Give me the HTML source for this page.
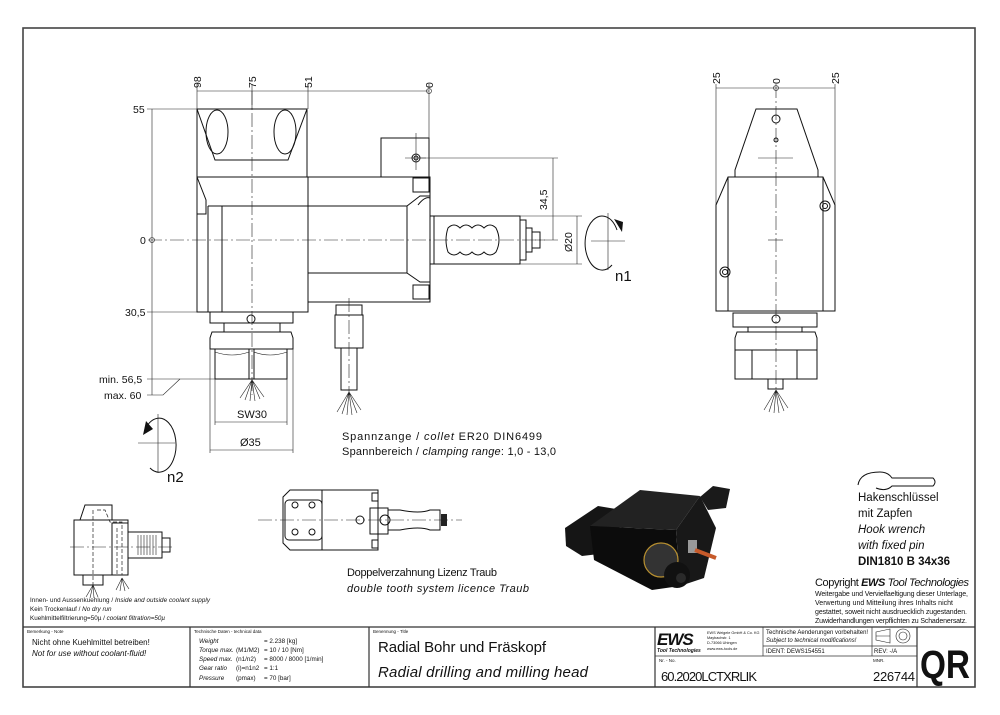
<!DOCTYPE html>
<html><head><meta charset="utf-8"><style>
html,body{margin:0;padding:0;background:#fff;}
svg{display:block;font-family:"Liberation Sans",sans-serif;}
.l{stroke:#111;stroke-width:1;fill:none}
.t{stroke:#222;stroke-width:0.6;fill:none}
.c{stroke:#222;stroke-width:0.6;fill:none;stroke-dasharray:14 3 2 3}
.h{stroke:#222;stroke-width:0.7;fill:none;stroke-dasharray:4 2}
text{fill:#111}
</style></head><body>
<svg width="1000" height="715" viewBox="0 0 1000 715" xmlns="http://www.w3.org/2000/svg">
<rect x="0" y="0" width="1000" height="715" fill="#fff"/>
<rect x="23" y="28" width="952" height="659" fill="none" stroke="#444" stroke-width="1.6"/>

<!-- MAIN SIDE VIEW -->
<rect class="l" x="197" y="109" width="110" height="68"/>
<path class="l" d="M197,109 L215,160 L288,160 L307,109"/>
<ellipse class="l" cx="217" cy="132" rx="11" ry="22"/>
<ellipse class="l" cx="285" cy="132" rx="11" ry="22"/>
<rect class="l" x="197" y="177" width="111" height="135"/>
<line class="l" x1="208" y1="206" x2="208" y2="312"/>
<line class="l" x1="222" y1="206" x2="222" y2="312"/>
<line class="l" x1="208" y1="206" x2="308" y2="206"/>
<path class="l" d="M197,177 L206,200 L206,214 L197,214"/>
<rect class="l" x="308" y="177" width="122" height="125"/>
<line class="l" x1="308" y1="206" x2="407" y2="206"/>
<line class="l" x1="308" y1="273" x2="407" y2="273"/>
<path class="l" d="M407,206 L420,196 L430,196 M407,206 L407,273 L420,282 L430,282"/>
<path class="l" d="M418,205 Q425,196 430,198"/>
<rect class="l" x="413" y="178" width="16" height="14"/>
<rect class="l" x="413" y="285" width="16" height="14"/>
<rect class="l" x="381" y="138" width="48" height="39"/>
<circle class="l" cx="416" cy="158" r="4"/><circle class="l" cx="416" cy="158" r="2"/>
<line class="t" x1="405" y1="158" x2="426" y2="158"/><line class="t" x1="416" y1="133" x2="416" y2="170"/>
<rect class="l" x="430" y="216" width="4" height="48"/>
<rect class="l" x="434" y="216" width="86" height="48"/>
<path class="l" d="M448,228 Q444,240 448,252 Q454,258 460,252 Q466,258 472,252 Q478,258 484,252 Q490,258 496,252 Q502,240 496,228 Q490,222 484,228 Q478,222 472,228 Q466,222 460,228 Q454,222 448,228Z"/>
<rect class="l" x="520" y="220" width="6" height="40"/>
<rect class="l" x="526" y="228" width="6" height="24"/>
<rect class="l" x="532" y="232" width="8" height="16" fill="#333"/>
<line class="c" x1="148" y1="240" x2="545" y2="240"/>
<line class="c" x1="252" y1="91" x2="252" y2="395"/>
<rect class="l" x="210" y="312" width="83" height="11"/>
<circle class="l" cx="251" cy="319" r="4"/>
<rect class="l" x="224" y="323" width="56" height="9"/>
<path class="l" d="M212,332 L291,332 L293,338 L293,349 L210,349 L210,338Z"/>
<rect class="l" x="215" y="349" width="72" height="30"/>
<line class="l" x1="249" y1="349" x2="249" y2="379"/><line class="l" x1="254" y1="349" x2="254" y2="379"/>
<path class="t" d="M215,352 Q232,358 249,352 M254,352 Q270,358 287,352"/>
<path class="t" d="M252,380 L240,398 M252,380 L245,400 M252,380 L250,401 M252,380 L255,401 M252,380 L260,399 M252,380 L264,397"/>
<rect class="l" x="336" y="305" width="26" height="10"/>
<rect class="l" x="335" y="315" width="28" height="33"/>
<rect class="l" x="341" y="348" width="16" height="42"/>
<line class="c" x1="349" y1="298" x2="349" y2="395"/>
<path class="t" d="M349,392 L337,412 M349,392 L342,414 M349,392 L347,415 M349,392 L352,415 M349,392 L357,413 M349,392 L361,410"/>

<line class="t" x1="197" y1="91" x2="429" y2="91"/>
<line class="t" x1="197" y1="84" x2="197" y2="109"/>
<line class="t" x1="252" y1="84" x2="252" y2="109"/>
<line class="t" x1="308" y1="84" x2="308" y2="109"/>
<line class="t" x1="429" y1="84" x2="429" y2="140"/>
<circle class="t" cx="429" cy="91" r="2.5"/>
<g font-size="10.5">
<text transform="translate(201,88) rotate(-90)">98</text>
<text transform="translate(256,88) rotate(-90)">75</text>
<text transform="translate(312,88) rotate(-90)">51</text>
<text transform="translate(433,88) rotate(-90)">0</text>
</g>
<line class="t" x1="152" y1="109" x2="152" y2="395"/>
<line class="t" x1="147" y1="109" x2="197" y2="109"/>
<line class="t" x1="147" y1="312" x2="197" y2="312"/>
<line class="t" x1="147" y1="379" x2="215" y2="379"/>
<path class="t" d="M147,395 L163,395 L180,379"/>
<circle class="t" cx="152" cy="240" r="2.5"/>
<g font-size="10.5">
<text x="133" y="113">55</text>
<text x="140" y="244">0</text>
<text x="125" y="316">30,5</text>
<text x="99" y="383">min. 56,5</text>
<text x="104" y="399">max. 60</text>
</g>
<line class="t" x1="215" y1="379" x2="215" y2="425"/><line class="t" x1="287" y1="379" x2="287" y2="425"/>
<line class="t" x1="215" y1="422" x2="287" y2="422"/>
<line class="t" x1="210" y1="349" x2="210" y2="453"/><line class="t" x1="293" y1="349" x2="293" y2="453"/>
<line class="t" x1="210" y1="450" x2="293" y2="450"/>
<text x="237" y="418" font-size="11">SW30</text>
<text x="240" y="446" font-size="11">Ø35</text>
<line class="t" x1="420" y1="158" x2="558" y2="158"/>
<line class="t" x1="535" y1="240" x2="558" y2="240"/>
<line class="t" x1="553" y1="158" x2="553" y2="240"/>
<line class="t" x1="520" y1="216" x2="582" y2="216"/>
<line class="t" x1="520" y1="264" x2="582" y2="264"/>
<line class="t" x1="577" y1="216" x2="577" y2="264"/>
<text transform="translate(547,210) rotate(-90)" font-size="10.5">34,5</text>
<text transform="translate(572,252) rotate(-90)" font-size="10.5">Ø20</text>
<path class="l" d="M617,230 A17,27 0 1,0 612,265"/>
<path d="M622,232 L614,219 L623,222Z" fill="#111"/>
<line class="t" x1="591" y1="241" x2="625" y2="241"/><line class="t" x1="608" y1="213" x2="608" y2="270"/>
<text x="615" y="281" font-size="15">n1</text>
<path class="l" d="M145,430 A17,27 0 1,1 150,468"/>
<path d="M143,435 L146,421 L153,429Z" fill="#111"/>
<line class="t" x1="138" y1="443" x2="175" y2="443"/><line class="t" x1="158" y1="414" x2="158" y2="473"/>
<text x="167" y="482" font-size="15">n2</text>

<text x="342" y="440" font-size="11" textLength="200">Spannzange / <tspan font-style="italic">collet</tspan>    ER20    DIN6499</text>
<text x="342" y="455" font-size="11" textLength="214">Spannbereich / <tspan font-style="italic">clamping range</tspan>: 1,0 - 13,0</text>

<!-- RIGHT VIEW -->
<line class="t" x1="716" y1="88" x2="835" y2="88"/>
<line class="t" x1="716" y1="84" x2="716" y2="205"/><line class="t" x1="835" y1="84" x2="835" y2="205"/>
<circle class="t" cx="776" cy="88" r="2.5"/>
<g font-size="10.5">
<text transform="translate(720,84) rotate(-90)">25</text>
<text transform="translate(780,84) rotate(-90)">0</text>
<text transform="translate(839,84) rotate(-90)">25</text>
</g>
<path class="l" d="M756,109 L797,109 L818,170 L818,177 L735,177 L735,170Z"/>
<circle class="l" cx="776" cy="119" r="4"/><circle class="l" cx="776" cy="140" r="2"/>
<line class="t" x1="758" y1="158" x2="793" y2="158"/>
<path class="l" d="M728,177 L823,177 L835,205 L835,311 L716,311 L716,205Z"/>
<line class="l" x1="728" y1="177" x2="728" y2="311"/><line class="l" x1="823" y1="177" x2="823" y2="311"/>
<circle class="l" cx="825" cy="206" r="5"/><circle class="l" cx="825" cy="206" r="2.5"/>
<circle class="l" cx="725" cy="272" r="5"/><circle class="l" cx="725" cy="272" r="2.5"/>
<line class="t" x1="768" y1="240" x2="783" y2="240"/>
<line class="c" x1="776" y1="84" x2="776" y2="392"/>
<rect class="l" x="733" y="313" width="84" height="14"/>
<circle class="l" cx="776" cy="319" r="4"/>
<rect class="l" x="748" y="327" width="54" height="5"/>
<path class="l" d="M737,332 L815,332 L817,338 L817,379 L735,379 L735,338Z"/>
<line class="l" x1="735" y1="350" x2="817" y2="350"/>
<line class="l" x1="752" y1="350" x2="752" y2="379"/><line class="l" x1="797" y1="350" x2="797" y2="379"/>
<rect class="l" x="768" y="379" width="15" height="10"/>
<path class="t" d="M776,390 L764,410 M776,390 L769,412 M776,390 L774,413 M776,390 L779,413 M776,390 L784,411 M776,390 L788,408"/>

<!-- small schematic bottom-left -->
<path class="l" d="M80,520 L85,505 L112,505 L112,520 Z"/>
<rect class="l" x="74" y="520" width="54" height="55"/>
<rect class="l" x="112" y="523" width="16" height="52"/>
<rect class="l" x="128" y="532" width="34" height="26"/>
<rect class="l" x="162" y="538" width="8" height="14"/>
<rect class="l" x="83" y="575" width="20" height="10"/>
<path class="h" d="M93,510 L93,585 M97,510 L105,510 L110,522 L122,522 L122,575 M117,528 L117,575"/>
<g stroke="#222" stroke-width="0.6"><line x1="138" y1="535" x2="138" y2="555"/><line x1="141" y1="535" x2="141" y2="555"/><line x1="144" y1="535" x2="144" y2="555"/><line x1="147" y1="535" x2="147" y2="555"/><line x1="150" y1="535" x2="150" y2="555"/><line x1="153" y1="535" x2="153" y2="555"/><line x1="156" y1="535" x2="156" y2="555"/></g>
<line class="c" x1="70" y1="547" x2="175" y2="547"/>
<path class="t" d="M93,585 L86,597 M93,585 L90,598 M93,585 L94,598 M93,585 L98,597 M122,578 L116,590 M122,578 L120,591 M122,578 L125,591 M122,578 L129,589"/>
<g font-size="6.3">
<text x="30" y="602" textLength="180">Innen- und Aussenkuehlung / <tspan font-style="italic">Inside and outside coolant supply</tspan></text>
<text x="30" y="611">Kein Trockenlauf / <tspan font-style="italic">No dry run</tspan></text>
<text x="30" y="620">Kuehlmittelfiltrierung=50µ / <tspan font-style="italic">coolant filtration=50µ</tspan></text>
</g>

<!-- middle schematic -->
<path class="l" d="M283,497 L290,490 L378,490 L378,550 L290,550 L283,543Z"/>
<rect class="l" x="322" y="490" width="56" height="60"/>
<rect class="l" x="285" y="500" width="37" height="40" rx="4"/>
<circle class="l" cx="295" cy="505" r="3"/><circle class="l" cx="312" cy="505" r="3"/>
<circle class="l" cx="295" cy="532" r="3"/><circle class="l" cx="312" cy="532" r="3"/>
<rect class="l" x="372" y="493" width="6" height="8"/><rect class="l" x="372" y="540" width="6" height="8"/>
<circle class="l" cx="360" cy="520" r="4"/>
<rect class="l" x="370" y="508" width="18" height="26"/>
<circle class="l" cx="385" cy="520" r="5"/>
<path class="l" d="M388,510 L400,510 Q420,514 430,510 L440,510 L440,530 L430,530 Q420,526 400,530 L388,530Z"/>
<rect x="441" y="514" width="6" height="12" fill="#222"/>
<line class="c" x1="258" y1="520" x2="462" y2="520"/>
<text x="347" y="576" font-size="11" textLength="150">Doppelverzahnung Lizenz Traub</text>
<text x="347" y="592" font-size="11" font-style="italic" textLength="182">double tooth system licence Traub</text>

<!-- iso image -->
<polygon points="565,528 598,506 622,510 616,552 582,556 566,546" fill="#151515"/>
<polygon points="590,526 640,490 700,496 676,530" fill="#222"/>
<polygon points="590,526 676,530 680,586 652,590 594,560" fill="#0c0c0c"/>
<polygon points="676,530 700,496 716,528 704,578 680,586" fill="#181818"/>
<polygon points="700,497 713,486 730,489 726,508 708,510" fill="#1a1a1a"/>
<circle cx="661" cy="560" r="17" fill="#333" stroke="#b89030" stroke-width="1.2"/>
<circle cx="677" cy="575" r="13" fill="#111"/>
<circle cx="681" cy="578" r="5" fill="#2a2a2a"/>
<rect x="688" y="540" width="9" height="13" fill="#999"/>
<line x1="695" y1="550" x2="716" y2="558" stroke="#c65a2a" stroke-width="4"/>

<!-- hook wrench -->
<path class="l" d="M858,485 Q860,472 880,472 Q888,472 892,478 L933,478 Q937,482 933,486 L892,486 Q886,492 876,488"/>
<g font-size="11.5">
<text x="858" y="501">Hakenschlüssel</text>
<text x="858" y="517">mit Zapfen</text>
<text x="858" y="533" font-style="italic">Hook wrench</text>
<text x="858" y="549" font-style="italic">with fixed pin</text>
<text x="858" y="565" font-weight="bold">DIN1810 B 34x36</text>
</g>
<text x="815" y="586" font-size="11" textLength="154">Copyright <tspan font-weight="bold" font-style="italic">EWS</tspan> <tspan font-style="italic">Tool Technologies</tspan></text>
<g font-size="7">
<text x="815" y="596" textLength="153">Weitergabe und Vervielfaeltigung dieser Unterlage,</text>
<text x="815" y="605" textLength="138">Verwertung und Mitteilung ihres Inhalts nicht</text>
<text x="815" y="614" textLength="152">gestattet, soweit nicht ausdruecklich zugestanden.</text>
<text x="815" y="623" textLength="152">Zuwiderhandlungen verpflichten zu Schadenersatz.</text>
</g>

<!-- title block -->
<g stroke="#333" stroke-width="1.2" fill="none">
<line x1="23" y1="627" x2="975" y2="627"/>
<line x1="190" y1="627" x2="190" y2="687"/>
<line x1="369" y1="627" x2="369" y2="687"/>
<line x1="655" y1="627" x2="655" y2="687"/>
<line x1="917" y1="627" x2="917" y2="687"/>
</g>
<g stroke="#333" stroke-width="0.7" fill="none">
<line x1="655" y1="656" x2="917" y2="656"/>
<line x1="763" y1="646" x2="917" y2="646"/>
<line x1="763" y1="627" x2="763" y2="656"/>
<line x1="872" y1="627" x2="872" y2="656"/>
</g>
<g font-size="4.5" fill="#333">
<text x="27" y="633">Bemerkung - Note</text>
<text x="194" y="633">Technische Daten - technical data</text>
<text x="373" y="633">Benennung - Title</text>
<text x="659" y="662">Nr. - No.</text>
<text x="873" y="662">MNR.</text>
</g>
<text x="32" y="645" font-size="8">Nicht ohne Kuehlmittel betreiben!</text>
<text x="32" y="656" font-size="8" font-style="italic">Not for use without coolant-fluid!</text>
<g font-size="6.3">
<text x="199" y="643"><tspan font-style="italic">Weight</tspan><tspan x="264">= 2.238 [kg]</tspan></text>
<text x="199" y="652"><tspan font-style="italic">Torque max.</tspan><tspan x="236">(M1/M2)</tspan><tspan x="264">= 10 / 10 [Nm]</tspan></text>
<text x="199" y="661"><tspan font-style="italic">Speed max.</tspan><tspan x="236">(n1/n2)</tspan><tspan x="264">= 8000 / 8000 [1/min]</tspan></text>
<text x="199" y="670"><tspan font-style="italic">Gear ratio</tspan><tspan x="236">(i)=n1n2</tspan><tspan x="264">= 1:1</tspan></text>
<text x="199" y="680"><tspan font-style="italic">Pressure</tspan><tspan x="236">(pmax)</tspan><tspan x="264">= 70 [bar]</tspan></text>
</g>
<text x="378" y="652" font-size="15" textLength="168">Radial Bohr und Fräskopf</text>
<text x="378" y="677" font-size="15" font-style="italic" textLength="210">Radial drilling and milling head</text>
<text x="657" y="645" font-size="17" font-weight="bold" font-style="italic" letter-spacing="-1">EWS</text>
<text x="657" y="652" font-size="5" font-weight="bold" font-style="italic">Tool Technologies</text>
<g font-size="3.8"><text x="707" y="634">EWS Weigele GmbH &amp; Co. KG</text><text x="707" y="639">Maybachstr. 1</text><text x="707" y="644">D-73066 Uhingen</text><text x="707" y="650">www.ews-tools.de</text></g>
<text x="766" y="634" font-size="6">Technische Aenderungen vorbehalten!</text>
<text x="766" y="642" font-size="6" font-style="italic">Subject to technical modifications!</text>
<text x="766" y="653" font-size="6">IDENT:  DEWS154551</text>
<text x="874" y="653" font-size="6">REV:  -/A</text>
<path class="t" d="M876,632 L890,629 L890,643 L876,640Z M876,636 L890,636"/>
<circle class="t" cx="903" cy="636" r="7"/><circle class="t" cx="903" cy="636" r="4"/>
<text x="661" y="681" font-size="13" textLength="96">60.2020LCTXRLIK</text>
<text x="873" y="681" font-size="13" textLength="42">226744</text>
<text x="920" y="678" font-size="40" font-weight="bold" textLength="50" lengthAdjust="spacingAndGlyphs">QR</text>
</svg>
</body></html>
